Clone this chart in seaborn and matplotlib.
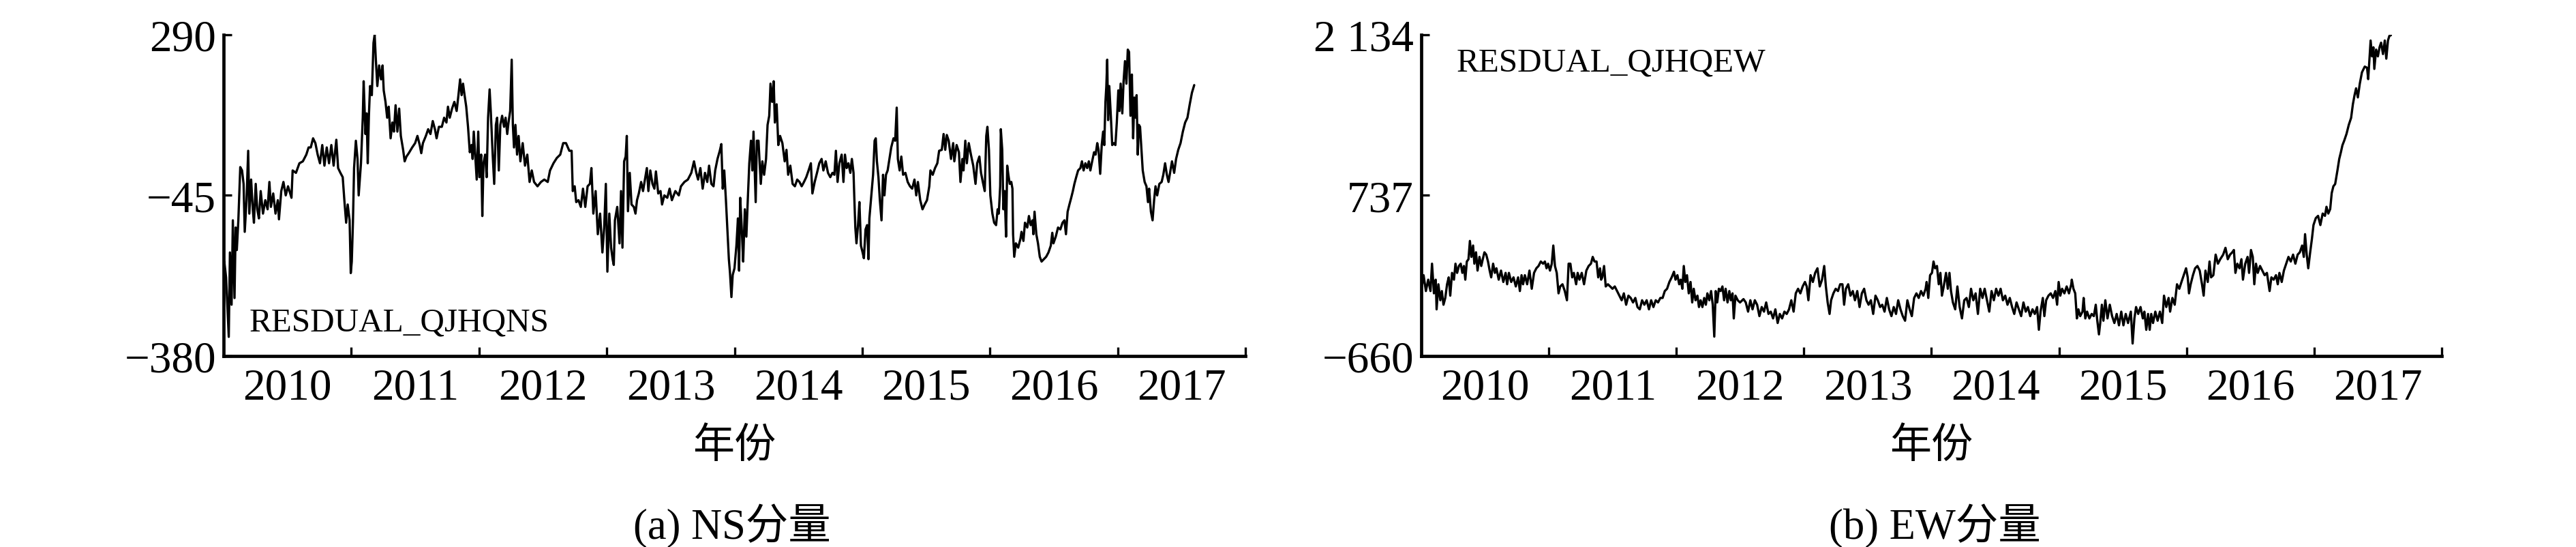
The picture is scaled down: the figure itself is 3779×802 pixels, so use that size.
import matplotlib
matplotlib.use("Agg")
import matplotlib.pyplot as plt
import seaborn as sns

# NS component
ns_year = [
    2010.000, 2010.005, 2010.019, 2010.031, 2010.040, 2010.049, 2010.062, 2010.072, 2010.085, 2010.094,
    2010.103, 2010.115, 2010.130, 2010.144, 2010.156, 2010.165, 2010.179, 2010.192, 2010.201, 2010.215,
    2010.228, 2010.237, 2010.251, 2010.263, 2010.276, 2010.290, 2010.308, 2010.326, 2010.344, 2010.358,
    2010.370, 2010.388, 2010.406, 2010.424, 2010.433, 2010.451, 2010.468, 2010.486, 2010.504, 2010.531,
    2010.540, 2010.566, 2010.593, 2010.620, 2010.647, 2010.665, 2010.682, 2010.700, 2010.718, 2010.736,
    2010.754, 2010.772, 2010.789, 2010.807, 2010.825, 2010.843, 2010.861, 2010.882, 2010.896, 2010.914,
    2010.932, 2010.946, 2010.959, 2010.971, 2010.986, 2010.995, 2011.003, 2011.012, 2011.021, 2011.035,
    2011.048, 2011.057, 2011.066, 2011.075, 2011.089, 2011.096, 2011.110, 2011.119, 2011.128, 2011.137,
    2011.146, 2011.160, 2011.173, 2011.182, 2011.191, 2011.203, 2011.217, 2011.232, 2011.244, 2011.253,
    2011.267, 2011.280, 2011.292, 2011.307, 2011.321, 2011.333, 2011.346, 2011.360, 2011.374, 2011.387,
    2011.405, 2011.417, 2011.431, 2011.449, 2011.476, 2011.499, 2011.517, 2011.535, 2011.547, 2011.560,
    2011.583, 2011.601, 2011.619, 2011.637, 2011.654, 2011.667, 2011.685, 2011.708, 2011.726, 2011.744,
    2011.756, 2011.770, 2011.788, 2011.806, 2011.824, 2011.838, 2011.851, 2011.863, 2011.874, 2011.886,
    2011.899, 2011.913, 2011.927, 2011.940, 2011.949, 2011.958, 2011.970, 2011.981, 2011.993, 2012.002,
    2012.016, 2012.025, 2012.034, 2012.047, 2012.059, 2012.070, 2012.082, 2012.091, 2012.106, 2012.118,
    2012.131, 2012.141, 2012.154, 2012.166, 2012.180, 2012.195, 2012.207, 2012.220, 2012.230, 2012.243,
    2012.255, 2012.264, 2012.273, 2012.284, 2012.297, 2012.309, 2012.323, 2012.341, 2012.359, 2012.377,
    2012.395, 2012.412, 2012.430, 2012.457, 2012.484, 2012.510,
    2012.537, 2012.555, 2012.582, 2012.608, 2012.635, 2012.658, 2012.680, 2012.706, 2012.724, 2012.733,
    2012.748, 2012.760, 2012.778, 2012.796, 2012.813, 2012.831, 2012.849, 2012.867, 2012.879, 2012.894,
    2012.912, 2012.929, 2012.947, 2012.965, 2012.979, 2012.992, 2013.004, 2013.019, 2013.033, 2013.045,
    2013.054, 2013.063, 2013.081, 2013.099, 2013.111, 2013.122, 2013.135, 2013.147, 2013.156, 2013.165,
    2013.179, 2013.193, 2013.211, 2013.224, 2013.236, 2013.250, 2013.268, 2013.283, 2013.295, 2013.313,
    2013.325, 2013.340, 2013.357, 2013.372, 2013.384, 2013.402, 2013.420, 2013.432, 2013.450, 2013.473,
    2013.491, 2013.509, 2013.536, 2013.563, 2013.580, 2013.607, 2013.634, 2013.661, 2013.682, 2013.700,
    2013.714, 2013.732, 2013.750, 2013.768, 2013.786, 2013.800, 2013.818, 2013.835, 2013.848, 2013.866,
    2013.884, 2013.896, 2013.907, 2013.919, 2013.932, 2013.946, 2013.955, 2013.964, 2013.975, 2013.985,
    2013.999, 2014.014, 2014.026, 2014.035, 2014.044, 2014.057, 2014.067, 2014.080, 2014.092, 2014.103,
    2014.115, 2014.128, 2014.139, 2014.148, 2014.156, 2014.165, 2014.174, 2014.187, 2014.196, 2014.205,
    2014.217, 2014.231, 2014.246, 2014.258, 2014.271, 2014.281, 2014.294, 2014.306, 2014.315, 2014.329,
    2014.342, 2014.356, 2014.374, 2014.392, 2014.406, 2014.419, 2014.436, 2014.454, 2014.472, 2014.490,
    2014.508, 2014.525, 2014.543, 2014.561, 2014.579, 2014.597, 2014.609, 2014.627, 2014.645, 2014.663,
    2014.681, 2014.695, 2014.713, 2014.731, 2014.749, 2014.766, 2014.781, 2014.793, 2014.806, 2014.820,
    2014.838, 2014.852, 2014.864, 2014.877, 2014.891, 2014.906, 2014.918, 2014.931, 2014.936, 2014.945,
    2014.954, 2014.966, 2014.977, 2014.989, 2015.002, 2015.012, 2015.025, 2015.037, 2015.048, 2015.055,
    2015.070, 2015.084, 2015.096,
    2015.105, 2015.114, 2015.126, 2015.137, 2015.150, 2015.162, 2015.173, 2015.185, 2015.198, 2015.212,
    2015.226, 2015.244, 2015.257, 2015.269, 2015.278, 2015.292, 2015.305, 2015.319, 2015.337, 2015.355,
    2015.373, 2015.390, 2015.408, 2015.422, 2015.435, 2015.453, 2015.471, 2015.488, 2015.506, 2015.524,
    2015.533, 2015.551, 2015.569, 2015.587, 2015.601, 2015.622, 2015.636, 2015.649, 2015.661, 2015.676,
    2015.694, 2015.711, 2015.720, 2015.738, 2015.756, 2015.768, 2015.783, 2015.792, 2015.806, 2015.818,
    2015.833, 2015.850, 2015.868, 2015.886, 2015.899, 2015.916, 2015.929, 2015.943, 2015.958, 2015.970,
    2015.979, 2015.991, 2016.002, 2016.018, 2016.032, 2016.047, 2016.059, 2016.068, 2016.079, 2016.084,
    2016.095, 2016.104, 2016.114, 2016.125, 2016.134, 2016.143, 2016.154, 2016.166, 2016.175, 2016.180,
    2016.189, 2016.202, 2016.220, 2016.238, 2016.246, 2016.261, 2016.273, 2016.291, 2016.304, 2016.318,
    2016.332, 2016.339, 2016.348, 2016.362, 2016.375, 2016.389, 2016.403, 2016.421, 2016.439, 2016.457,
    2016.475, 2016.487, 2016.496, 2016.514, 2016.532, 2016.550, 2016.567, 2016.582, 2016.594, 2016.607,
    2016.621, 2016.635, 2016.648, 2016.660, 2016.674, 2016.689, 2016.707, 2016.719, 2016.732, 2016.746,
    2016.760, 2016.773, 2016.785, 2016.799, 2016.814, 2016.826, 2016.839, 2016.849, 2016.862, 2016.874,
    2016.885, 2016.894, 2016.903, 2016.910, 2016.917, 2016.924, 2016.933, 2016.946, 2016.956, 2016.969,
    2016.981, 2016.992, 2017.004, 2017.013, 2017.022, 2017.035, 2017.045, 2017.056, 2017.067, 2017.078,
    2017.088, 2017.099, 2017.110, 2017.120, 2017.129, 2017.138, 2017.147, 2017.156, 2017.165, 2017.174,
    2017.183, 2017.195, 2017.210, 2017.224, 2017.236, 2017.245, 2017.259, 2017.272, 2017.284, 2017.295,
    2017.308, 2017.325, 2017.343, 2017.356, 2017.370, 2017.384, 2017.397, 2017.409, 2017.424, 2017.441,
    2017.456, 2017.473, 2017.491, 2017.509, 2017.527, 2017.545, 2017.563, 2017.580, 2017.598,
]
ns_value = [
    -230, -183, -216, -287, -340, -164, -273, -97, -259, -112,
    -159, -97, 14, 7, -21, -121, -55, 48, -83, -12,
    -74, -102, -21, -74, -93, -36, -83, -55, -74, -17,
    -69, -41, -83, -55, -95, -36, -17, -45, -26, -50,
    7, 2, 22, 26, 40, 55, 55, 74, 64, 40,
    22, 60, 17, 55, 22, 60, 17, 71, 12, 2,
    -7, -59, -102, -64, -97, -207, -183, -102, 12, 69,
    31, -45, -12, 22, 117, 193, 83, 126, 22, 121,
    183, 164, 273, 290, 240, 183, 226, 197, 226, 174,
    150, 117, 140, 74, 107, 88, 143, 88, 136, 79,
    50, 26, 36, 43, 55, 64, 79, 60, 43, 64,
    79, 93, 83, 110, 93, 74, 98, 98, 117, 107,
    140, 117, 136, 150, 131, 164, 197, 164, 188, 164,
    140, 98, 45, 60, 31, 88, 36, -12, 88, -7,
    40, -88, 22, 40, -7, 117, 176, 131, 40, -21,
    102, 117, 7, 102, 121, 98, 117, 83, 107, 131,
    238, 102, 55, 102, 40, 79, 26, 64, 17, 40,
    -17, 7, -17, -26, -17, -12,
    -17, 7, 22, 33, 40, 64, 64, 48, 48, -36,
    -26, -59, -55, -69, -31, -69, -26, -21, 12, -83,
    -36, -126, -83, -164, -112, -21, -204, -83, -154, -178,
    -190, -97, -69, -145, -36, -154, 26, 36, 79, -78,
    2, -64, -69, -83, -55, -41, -17, -36, -17, 12,
    -36, 7, -21, -31, 5, -41, -36, -64, -45, -50,
    -31, -55, -36, -45, -26, -17, -12, 2, 26, 2,
    -12, 12, -31, 2, -17, 17, -21, -26, 7, 31,
    48, 62, -31, 7, -55, -131, -178, -207, -257, -211,
    -197, -150, -93, -202, -50, -121, -183, -74, -131, -55,
    22, 69, 7, 88, 17, -59, 69, 69, 22, -21,
    26, -2, 31, 102, 121, 188, 150, 193, 107, 145,
    60, 79, 64, 26, 50, -2, 17, -21, -26, -12,
    -17, -26, -17, -7, 7, 22, -41, -17, 2, 22,
    31, 7, 26, 2, -7, 2, -2, 48, -17, 22,
    40, -17, 40, 12, 22, 2, 31, 2, -41, -112,
    -145, -107, -59, -150, -164, -176, -116, -107, -178, -93,
    -45, -2, 69,
    74, 26, -7, -55, -97, -2, -45, -2, 7, 31,
    55, 74, 69, 138, 31, 7, 36, -2, 2, -17,
    -26, -31, -12, -45, -17, -55, -74, -64, -55, -26,
    7, -2, 12, 22, 48, 50, 83, 50, 81, 69,
    31, 64, 26, 60, 45, -17, 31, 7, 69, 22,
    64, 40, 17, -21, 22, 36, 2, -17, -36, 79,
    98, 50, -45, -83, -102, -107, -74, -83, -26, 93,
    50, -74, -36, -131, 17, -2, -21, -17, -31, -126,
    -173, -145, -154, -135, -121, -140, -102, -112, -88, -107,
    -97, -126, -79, -126, -145, -173, -183, -178, -173, -164,
    -150, -123, -145, -131, -112, -116, -102, -97, -126, -79,
    -64, -50, -36, -21, -7, 7, 12, 26, 7, 22,
    12, 26, 7, 26, 45, 40, 64, 50, 0, 60,
    88, 60, 150, 183, 238, 112, 183, 117, 60, 64,
    60, 107, 174, 131, 188, 126, 193, 235, 188, 259,
    254, 121, 207, 74, 159, 117, 164, 40, 102, 98,
    60, 7, -17, -26, -59, -31, -79, -97, -55, -26,
    -45, -21, -17, -2, 22, -2, -17, 2, 26, 2,
    31, 50, 64, 88, 107, 117, 145, 169, 185,
]

# EW component
ew_year = [
    2010.000, 2010.005, 2010.018, 2010.036, 2010.054, 2010.072, 2010.084, 2010.099, 2010.113, 2010.120,
    2010.134, 2010.149, 2010.161, 2010.174, 2010.188, 2010.202, 2010.215, 2010.227, 2010.241, 2010.256,
    2010.268, 2010.281, 2010.295, 2010.309, 2010.322, 2010.334, 2010.345, 2010.357, 2010.370, 2010.381,
    2010.393, 2010.406, 2010.416, 2010.429, 2010.441, 2010.456, 2010.470, 2010.482, 2010.495, 2010.509,
    2010.523, 2010.536, 2010.548, 2010.563, 2010.577, 2010.589, 2010.607, 2010.625, 2010.643, 2010.661,
    2010.673, 2010.687, 2010.705, 2010.723, 2010.741, 2010.759, 2010.773, 2010.786, 2010.798, 2010.812,
    2010.830, 2010.848, 2010.866, 2010.884, 2010.902, 2010.919, 2010.937, 2010.955, 2010.969, 2010.982,
    2010.994, 2011.009, 2011.023, 2011.035, 2011.048, 2011.062, 2011.076, 2011.089, 2011.107, 2011.125,
    2011.142, 2011.155, 2011.169, 2011.183, 2011.196, 2011.214, 2011.226, 2011.240, 2011.258, 2011.276,
    2011.294, 2011.312, 2011.330, 2011.344, 2011.358, 2011.374, 2011.387, 2011.401, 2011.410, 2011.419,
    2011.433, 2011.446, 2011.463, 2011.481, 2011.499, 2011.517, 2011.535, 2011.553, 2011.571, 2011.588,
    2011.606, 2011.624, 2011.642, 2011.660, 2011.678, 2011.695, 2011.713, 2011.731, 2011.749, 2011.767,
    2011.785, 2011.802, 2011.820, 2011.838, 2011.856, 2011.874, 2011.892, 2011.909, 2011.927, 2011.945,
    2011.963, 2011.981, 2011.993, 2012.008, 2012.022, 2012.034, 2012.047, 2012.058, 2012.070, 2012.083,
    2012.097, 2012.111, 2012.124, 2012.136, 2012.150, 2012.165, 2012.177, 2012.190, 2012.204, 2012.218,
    2012.231, 2012.243, 2012.258, 2012.272, 2012.285, 2012.297, 2012.308, 2012.320, 2012.333, 2012.347,
    2012.361, 2012.374, 2012.386, 2012.401, 2012.415, 2012.427, 2012.440, 2012.450, 2012.463, 2012.481,
    2012.499, 2012.517,
    2012.526, 2012.544, 2012.562, 2012.580, 2012.597, 2012.615, 2012.633, 2012.651, 2012.669, 2012.687,
    2012.704, 2012.722, 2012.740, 2012.758, 2012.776, 2012.794, 2012.811, 2012.829, 2012.847, 2012.865,
    2012.883, 2012.901, 2012.919, 2012.936, 2012.954, 2012.972, 2012.990, 2013.008, 2013.022, 2013.035,
    2013.052, 2013.070, 2013.088, 2013.106, 2013.124, 2013.142, 2013.159, 2013.172, 2013.186, 2013.201,
    2013.213, 2013.231, 2013.249, 2013.267, 2013.284, 2013.302, 2013.315, 2013.329, 2013.347, 2013.365,
    2013.383, 2013.400, 2013.418, 2013.436, 2013.454, 2013.472, 2013.490, 2013.507, 2013.525, 2013.543,
    2013.561, 2013.579, 2013.597, 2013.614, 2013.632, 2013.650, 2013.668, 2013.686, 2013.704, 2013.722,
    2013.739, 2013.757, 2013.775, 2013.793, 2013.811, 2013.829, 2013.846, 2013.864, 2013.882, 2013.900,
    2013.918, 2013.936, 2013.954, 2013.962, 2013.975, 2013.989, 2014.004, 2014.016, 2014.028, 2014.043,
    2014.057, 2014.070, 2014.082, 2014.096, 2014.114, 2014.128, 2014.141, 2014.153, 2014.168, 2014.186,
    2014.203, 2014.221, 2014.239, 2014.257, 2014.275, 2014.293, 2014.310, 2014.328, 2014.346, 2014.364,
    2014.382, 2014.400, 2014.417, 2014.435, 2014.453, 2014.471, 2014.489, 2014.507, 2014.525, 2014.542,
    2014.560, 2014.578, 2014.596, 2014.614, 2014.632, 2014.649, 2014.667, 2014.685, 2014.703, 2014.721,
    2014.739, 2014.756, 2014.774, 2014.792, 2014.810, 2014.828, 2014.842, 2014.855, 2014.873, 2014.885,
    2014.899, 2014.917, 2014.935, 2014.953, 2014.971, 2014.985, 2014.997, 2015.010, 2015.024, 2015.042,
    2015.060, 2015.078, 2015.096,
    2015.100, 2015.113, 2015.127, 2015.140, 2015.152, 2015.166, 2015.184, 2015.193, 2015.206, 2015.220,
    2015.238, 2015.256, 2015.273, 2015.288, 2015.300, 2015.313, 2015.323, 2015.336, 2015.348, 2015.363,
    2015.380, 2015.398, 2015.416, 2015.434, 2015.452, 2015.470, 2015.488, 2015.505, 2015.523, 2015.541,
    2015.563, 2015.577, 2015.591, 2015.604, 2015.621, 2015.639, 2015.657, 2015.669, 2015.684, 2015.698,
    2015.711, 2015.723, 2015.737, 2015.755, 2015.773, 2015.791, 2015.809, 2015.823, 2015.841, 2015.859,
    2015.871, 2015.889, 2015.907, 2015.925, 2015.943, 2015.960, 2015.978, 2015.996, 2016.009, 2016.019,
    2016.032, 2016.050, 2016.067, 2016.085, 2016.103, 2016.121, 2016.134, 2016.148, 2016.166, 2016.180,
    2016.192, 2016.210, 2016.228, 2016.246, 2016.264, 2016.287, 2016.305, 2016.323, 2016.341, 2016.358,
    2016.371, 2016.383, 2016.398, 2016.415, 2016.430, 2016.442, 2016.460, 2016.478, 2016.490, 2016.505,
    2016.519, 2016.531, 2016.544, 2016.558, 2016.576, 2016.594, 2016.612, 2016.630, 2016.651, 2016.665,
    2016.683, 2016.701, 2016.715, 2016.728, 2016.746, 2016.763, 2016.781, 2016.799, 2016.817, 2016.835,
    2016.853, 2016.871, 2016.888, 2016.906, 2016.919, 2016.929, 2016.942, 2016.954, 2016.969, 2016.983,
    2016.995, 2017.013, 2017.031, 2017.049, 2017.067, 2017.085, 2017.097, 2017.111, 2017.126, 2017.138,
    2017.151, 2017.165, 2017.174, 2017.183, 2017.197, 2017.210, 2017.222, 2017.236, 2017.254, 2017.272,
    2017.290, 2017.304, 2017.317, 2017.329, 2017.343, 2017.358, 2017.375, 2017.397, 2017.415, 2017.424,
    2017.433, 2017.443, 2017.454, 2017.465, 2017.472, 2017.486, 2017.500, 2017.513, 2017.525, 2017.540,
    2017.554, 2017.566, 2017.579, 2017.590, 2017.602,
]
ew_value = [
    63, -55, 43, -95, 4, -95, 143, -115, 4, -254,
    -36, -175, -95, -214, -155, -36, 24, -135, 63, 4,
    143, 63, 123, 143, 63, 123, 4, 162, 182, 341,
    202, 301, 143, 242, 83, 202, 123, 182, 242, 222,
    162, 83, 24, 143, 63, 103, 4, 83, -16, 63,
    -36, 63, -16, 24, -55, 24, -95, 43, -36, 43,
    -36, 83, -75, 63, 103, 123, 162, 143, 162, 103,
    143, 83, 143, 301, 123, 63, -115, -55, -36, -95,
    -175, 143, 143, 24, 63, -36, 63, 4, 63, -36,
    83, 123, 143, 202, 162, 162, 24, 103, 4, 24,
    123, -55, -36, -55, -75, -55, -95, -135, -175, -115,
    -214, -135, -155, -194, -155, -234, -254, -175, -214, -175,
    -254, -175, -234, -175, -194, -155, -155, -95, -75, -16,
    24, 73, 4, 43, -36, 4, -75, 123, -16, 43,
    -115, -16, -194, -75, -175, -135, -234, -175, -234, -155,
    -214, -115, -175, -95, -214, -491, -95, -194, -75, -95,
    -55, -175, -75, -194, -95, -175, -115, -333, -135, -175,
    -194, -175,
    -165, -194, -274, -175, -254, -175, -214, -313, -234, -274,
    -194, -294, -274, -333, -254, -373, -294, -333, -274, -294,
    -254, -175, -274, -115, -75, -115, -55, -16, -55, -175,
    43, -16, 63, 103, -55, 4, 123, -55, -194, -294,
    -175, -115, -75, -95, -36, -36, -214, -75, -36, -135,
    -95, -175, -95, -234, -115, -75, -175, -214, -175, -294,
    -135, -175, -234, -214, -274, -155, -254, -313, -234, -294,
    -175, -254, -313, -353, -175, -254, -313, -155, -115, -155,
    -95, -135, -75, -16, -155, 43, 63, 162, 103, 123,
    -36, 63, -135, -55, 63, -75, 63, -95, -194, -254,
    -55, -234, -333, -175, -155, -234, -75, -175, -115, -294,
    -75, -155, -75, -175, -274, -95, -175, -75, -135, -75,
    -175, -135, -214, -155, -234, -294, -194, -254, -313, -194,
    -274, -234, -313, -254, -294, -234, -432, -274, -155, -313,
    -175, -135, -115, -155, -95, -214, -16, -135, -75, -115,
    -55, -115, -36,
    4, -75, -115, -333, -254, -313, -274, -155, -333, -274,
    -333, -294, -313, -214, -353, -472, -373, -214, -353, -175,
    -333, -214, -313, -373, -294, -393, -274, -393, -294, -373,
    -274, -551, -333, -234, -294, -234, -333, -274, -432, -294,
    -432, -294, -373, -274, -353, -274, -373, -135, -234, -155,
    -274, -155, -214, -36, -75, -16, 43, 103, 24, -115,
    -36, 43, 103, 123, 83, -36, -135, 83, -16, 162,
    24, 43, 222, 143, 182, 222, 281, 182, 222, 242,
    262, 63, 143, 103, 182, 4, 143, 202, 63, 262,
    202, -36, 143, 63, 123, 83, 43, 63, -95, 24,
    4, 43, -36, 63, -16, 83, 143, 202, 162, 222,
    143, 222, 242, 301, 202, 400, 222, 103, 242, 361,
    479, 539, 559, 479, 579, 559, 638, 579, 618, 757,
    816, 836, 896, 955, 1054, 1113, 1173, 1213, 1272, 1351,
    1411, 1530, 1609, 1668, 1589, 1708, 1807, 1857, 1847, 1748,
    1906, 2084, 1946, 2025, 1837, 2005, 1946, 2025, 2065, 1966,
    2084, 1926, 2084, 2124, 2130,
]

year_labels = ["2010", "2011", "2012", "2013", "2014", "2015", "2016", "2017"]
year_bounds = [2011, 2012, 2013, 2014, 2015, 2016, 2017, 2018]
year_centers = [2010.5, 2011.5, 2012.5, 2013.5, 2014.5, 2015.5, 2016.5, 2017.5]

ns_ticks = [-380, -45, 290]
ns_tick_labels = ["\u2212380", "\u221245", "290"]
ew_ticks = [-660, 737, 2134]
ew_tick_labels = ["\u2212660", "737", "2 134"]

sns.set_theme(style="ticks")
plt.rcParams["font.family"] = ["Liberation Serif", "Noto Sans CJK SC"]

fig = plt.figure(figsize=(37.8, 8.03), dpi=100)
fig.patch.set_facecolor("white")
ax_ns = fig.add_axes([0.0868, 0.3487, 0.3966, 0.5866])
ax_ew = fig.add_axes([0.5516, 0.3487, 0.3960, 0.5866])

sns.lineplot(x=ns_year, y=ns_value, ax=ax_ns, color="black", linewidth=2.4, estimator=None)
sns.lineplot(x=ew_year, y=ew_value, ax=ax_ew, color="black", linewidth=2.4, estimator=None)

panels = [
    (ax_ns, ns_ticks, ns_tick_labels, "RESDUAL_QJHQNS", 0.0247, 0.0786),
    (ax_ew, ew_ticks, ew_tick_labels, "RESDUAL_QJHQEW", 0.0347, 0.8875),
]
for ax, ticks, labels, name, tx, ty in panels:
    ax.set_facecolor("white")
    ax.set_xlim(2010, 2018)
    ax.set_ylim(ticks[0], ticks[-1])
    ax.set_xlabel("")
    ax.set_ylabel("")
    for side in ["top", "right"]:
        ax.spines[side].set_visible(False)
    for side in ["left", "bottom"]:
        ax.spines[side].set_linewidth(3.4)
        ax.spines[side].set_color("black")
    # year boundaries carry the tick marks, labels sit between them
    ax.set_xticks(year_bounds)
    ax.set_xticklabels([])
    ax.set_xticks(year_centers, minor=True)
    ax.set_xticklabels(year_labels, minor=True)
    ax.tick_params(axis="x", which="major", direction="in", length=9.7, width=2.4, color="black")
    ax.tick_params(axis="x", which="minor", length=0, pad=12, labelsize=47, labelcolor="black")
    ax.set_yticks(ticks)
    ax.set_yticklabels(labels)
    ax.tick_params(axis="y", direction="in", length=8.5, width=2.4, color="black",
                   pad=8, labelsize=47, labelcolor="black")
    ax.text(tx, ty, name, transform=ax.transAxes, fontsize=35.5,
            ha="left", va="baseline", color="black")

fig.text(0.2851, 0.183, "年份", ha="center", va="center", fontsize=44, color="black")
fig.text(0.7496, 0.183, "年份", ha="center", va="center", fontsize=44, color="black")
fig.text(0.2840, 0.0386, "(a) NS分量", ha="center", va="center", fontsize=45, color="black")
fig.text(0.7508, 0.0386, "(b) EW分量", ha="center", va="center", fontsize=45, color="black")

fig.savefig("out.png", dpi=100)
